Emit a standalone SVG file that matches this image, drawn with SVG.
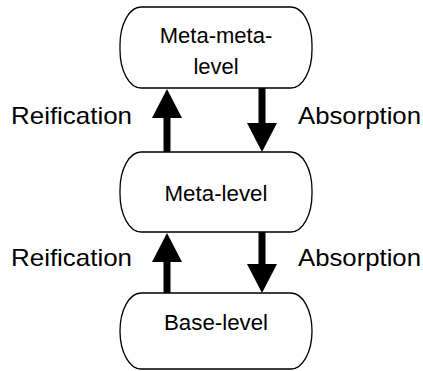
<svg xmlns="http://www.w3.org/2000/svg" width="423" height="371" viewBox="0 0 423 371">
<style>
.box{fill:#fff;stroke:#000;stroke-width:1.3}
.t{font-family:"Liberation Sans",Arial,sans-serif;font-size:22px;fill:#000;text-anchor:middle}
.lbl{font-family:"Liberation Sans",Arial,sans-serif;font-size:24px;fill:#000}
.arr{stroke:#000;stroke-width:7;fill:none}
</style>
<defs>
<marker id="ah" markerUnits="userSpaceOnUse" markerWidth="30" markerHeight="30" viewBox="0 0 29 30" refX="0" refY="15" orient="auto">
<path d="M0,0 L29,15 L0,30 z" fill="#000"/>
</marker>
</defs>
<rect x="0" y="0" width="423" height="371" fill="#fff"/>
<g id="connectors">
<line class="arr" x1="167" y1="152" x2="167" y2="118" marker-end="url(#ah)"/>
<line class="arr" x1="262" y1="88" x2="262" y2="123" marker-end="url(#ah)"/>
<line class="arr" x1="167" y1="293" x2="167" y2="262" marker-end="url(#ah)"/>
<line class="arr" x1="262" y1="232" x2="262" y2="264" marker-end="url(#ah)"/>
</g>
<g id="labels">
<text class="lbl" x="11" y="124" textLength="121" lengthAdjust="spacingAndGlyphs">Reification</text>
<text class="lbl" x="298" y="124" textLength="123" lengthAdjust="spacingAndGlyphs">Absorption</text>
<text class="lbl" x="11" y="266" textLength="121" lengthAdjust="spacingAndGlyphs">Reification</text>
<text class="lbl" x="298" y="266" textLength="123" lengthAdjust="spacingAndGlyphs">Absorption</text>
</g>
<g id="meta-meta-level">
<rect class="box" x="120" y="7" width="192" height="81" rx="21" ry="38"/>
<text class="t" x="216" y="43">Meta-meta-</text>
<text class="t" x="216" y="74">level</text>
</g>
<g id="meta-level">
<rect class="box" x="120" y="152" width="192" height="80" rx="21" ry="38"/>
<text class="t" x="216" y="201" textLength="103" lengthAdjust="spacingAndGlyphs">Meta-level</text>
</g>
<g id="base-level">
<rect class="box" x="120" y="293" width="192" height="76" rx="21" ry="38"/>
<text class="t" x="216" y="330" textLength="104" lengthAdjust="spacingAndGlyphs">Base-level</text>
</g>
</svg>
